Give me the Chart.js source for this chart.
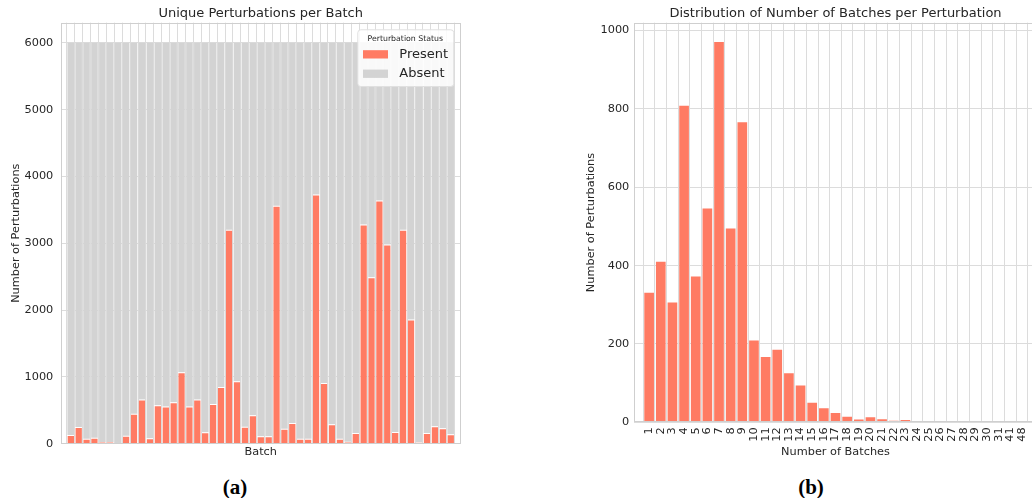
<!DOCTYPE html>
<html><head><meta charset="utf-8">
<script src="https://cdn.jsdelivr.net/npm/chart.js@4.4.1/dist/chart.umd.min.js"></script>
<style>
html,body{margin:0;padding:0;background:#fff;overflow:hidden;width:1032px;height:498px;position:relative;}
#wrapA{position:absolute;left:0;top:0;width:480px;height:470px;}
#wrapB{position:absolute;left:570px;top:0;width:480px;height:470px;}
.cap{position:absolute;font-family:"Liberation Serif","Times New Roman",serif;font-weight:bold;font-size:21px;line-height:1;color:#000;transform:translate(-50%,-50%);white-space:nowrap;}
</style></head><body>
<div id="wrapA"><canvas id="chartA" style="width:480px;height:470px"></canvas></div>
<div id="wrapB"><canvas id="chartB" style="width:480px;height:470px"></canvas></div>
<div class="cap" style="left:235px;top:487px">(a)</div>
<div class="cap" style="left:811px;top:487px">(b)</div>
<script>
// ---------- data: chart (a) ----------
const batchIds = [1,2,3,4,5,6,7,8,9,10,11,12,13,14,15,16,17,18,19,20,21,22,23,24,25,26,27,28,29,30,31,32,33,34,35,36,37,38,39,40,41,42,43,44,45,46,47,48,49];
const presentCounts = [130,250,75,90,25,25,8,120,450,660,80,575,555,620,1070,555,660,170,595,850,3200,935,255,425,110,110,3560,225,310,75,75,3730,910,290,75,30,160,3280,2490,3640,2980,175,3200,1860,20,160,260,230,140];
const absentCounts = [5870,5750,5925,5910,5975,5975,5992,5880,5550,5340,5920,5425,5445,5380,4930,5445,5340,5830,5405,5150,2800,5065,5745,5575,5890,5890,2440,5775,5690,5925,5925,2270,5090,5710,5925,5970,5840,2720,3510,2360,3020,5825,2800,4140,5980,5840,5740,5770,5860];
const yTicksA = [0,1000,2000,3000,4000,5000,6000];

// ---------- data: chart (b) ----------
const batchCountLabels = ['1','2','3','4','5','6','7','8','9','10','11','12','13','14','15','16','17','18','19','20','21','22','23','24','25','26','27','28','29','30','31','41','48'];
const perturbationCounts = [331,410,306,808,372,546,971,495,766,209,167,185,125,94,50,36,24,14,7,13,8,4,6,1,3,1,1,1,1,1,1,1,1];
const yTicksB = [0,200,400,600,800,1000];

const RED = '#FF7B63';
const GREY = '#D3D3D3';
const GRID = '#dcdcdc';
const TXT = '#262626';
const FS = 11.3;

Chart.defaults.font.family = "'DejaVu Sans', sans-serif";
Chart.defaults.color = TXT;
Chart.defaults.animation = false;

const framePlugin = {
  id: 'frame',
  afterDatasetsDraw(chart) {
    const {ctx, chartArea: a} = chart;
    ctx.save();
    ctx.strokeStyle = '#cfcfcf';
    ctx.lineWidth = 1;
    const l = Math.round(a.left) + 0.5, t = Math.round(a.top) + 0.5;
    const r = Math.round(a.right) - 0.5, b = Math.round(a.bottom) - 0.5;
    ctx.strokeRect(l, t, r - l, b - t);
    ctx.restore();
  }
};

const legendPlugin = {
  id: 'boxLegend',
  afterDraw(chart) {
    const {ctx, chartArea: a} = chart;
    const w = 96, h = 56.7;
    const x = a.right - 7.4 - w, y = a.top + 6.6;
    ctx.save();
    ctx.beginPath();
    ctx.roundRect(x + 0.5, y + 0.5, w, h, 3);
    ctx.fillStyle = 'rgba(255,255,255,0.85)';
    ctx.fill();
    ctx.strokeStyle = '#e0e0e0';
    ctx.lineWidth = 1;
    ctx.stroke();
    ctx.fillStyle = TXT;
    ctx.textBaseline = 'middle';
    ctx.textAlign = 'center';
    ctx.font = "7.8px 'DejaVu Sans'";
    ctx.fillText('Perturbation Status', x + w / 2, y + 9.2);
    ctx.textAlign = 'left';
    ctx.font = "13px 'DejaVu Sans'";
    chart.data.datasets.forEach((ds, i) => {
      const cy = y + 25 + i * 19.4;
      ctx.fillStyle = ds.backgroundColor;
      ctx.fillRect(x + 5.7, cy - 4.1, 25, 8.3);
      ctx.fillStyle = TXT;
      ctx.fillText(ds.label, x + 42, cy);
    });
    ctx.restore();
  }
};

// ---------- chart (a) ----------
new Chart(document.getElementById('chartA'), {
  type: 'bar',
  data: {
    datasets: [
      { label: 'Present', data: presentCounts.map((v, i) => ({x: i, y: v})), backgroundColor: RED,
        borderColor: 'rgba(255,255,255,0.8)', borderWidth: {top: 1, left: 0, right: 0, bottom: 0},
        categoryPercentage: 1, barPercentage: 0.83 },
      { label: 'Absent', data: absentCounts.map((v, i) => ({x: i, y: v})), backgroundColor: GREY,
        borderWidth: 0, categoryPercentage: 1, barPercentage: 0.83 }
    ]
  },
  options: {
    responsive: false,
    devicePixelRatio: 1,
    layout: { padding: { left: 0, right: 19.3, top: 0, bottom: 0 } },
    plugins: {
      legend: { display: false },
      tooltip: { enabled: false },
      title: { display: true, fullSize: false, text: 'Unique Perturbations per Batch', color: TXT,
        font: { size: 13, weight: 'normal' }, padding: { top: 6, bottom: 1.1 } }
    },
    scales: {
      x: {
        type: 'linear', stacked: true, min: -0.75, max: batchIds.length - 0.25,
        afterBuildTicks: (s) => { s.ticks = batchIds.map((b, i) => ({value: i})); },
        ticks: { display: false },
        grid: { color: GRID, drawTicks: false },
        border: { display: false },
        title: { display: true, text: 'Batch', color: TXT, font: { size: FS }, padding: { top: 0, bottom: 11.4 } },
        afterFit: (s) => { s.height = 26.3; }
      },
      y: {
        stacked: true, min: 0, max: 6300,
        afterBuildTicks: (s) => { s.ticks = yTicksA.map(v => ({value: v})); },
        ticks: { padding: 7.4, font: { size: FS }, color: TXT, callback: (v) => String(v) },
        grid: { color: GRID, drawTicks: false },
        border: { display: false },
        title: { display: true, text: 'Number of Perturbations', color: TXT, font: { size: FS }, padding: { top: 8.9, bottom: 0 } },
        afterFit: (s) => { s.width = 60.7; }
      }
    }
  },
  plugins: [framePlugin, legendPlugin]
});

// ---------- chart (b) ----------
new Chart(document.getElementById('chartB'), {
  type: 'bar',
  data: {
    datasets: [
      { label: 'Number of Perturbations', data: perturbationCounts.map((v, i) => ({x: i, y: v})),
        backgroundColor: RED, borderWidth: 0, categoryPercentage: 1, barPercentage: 0.83 }
    ]
  },
  options: {
    responsive: false,
    devicePixelRatio: 1,
    layout: { padding: { left: 0, right: 13.3, top: 0, bottom: 0 } },
    plugins: {
      legend: { display: false },
      tooltip: { enabled: false },
      title: { display: true, fullSize: false, text: 'Distribution of Number of Batches per Perturbation', color: TXT,
        font: { size: 13, weight: 'normal' }, padding: { top: 6, bottom: 1.1 } }
    },
    scales: {
      x: {
        type: 'linear', min: -0.75, max: batchCountLabels.length - 0.25,
        afterBuildTicks: (s) => { s.ticks = batchCountLabels.map((b, i) => ({value: i})); },
        ticks: { autoSkip: false, maxRotation: 90, minRotation: 90, padding: 5, font: { size: FS }, color: TXT,
          callback: (v) => batchCountLabels[v] },
        grid: { color: GRID, drawTicks: false },
        border: { display: false },
        title: { display: true, text: 'Number of Batches', color: TXT, font: { size: FS }, padding: { top: 0, bottom: 11.4 } },
        afterFit: (s) => { s.height = 47.7; }
      },
      y: {
        min: 0, max: 1020,
        afterBuildTicks: (s) => { s.ticks = yTicksB.map(v => ({value: v})); },
        ticks: { padding: 5, font: { size: FS }, color: TXT, callback: (v) => String(v) },
        grid: { color: GRID, drawTicks: false },
        border: { display: false },
        title: { display: true, text: 'Number of Perturbations', color: TXT, font: { size: FS }, padding: { top: 14.4, bottom: 0 } },
        afterFit: (s) => { s.width = 64.3; }
      }
    }
  },
  plugins: [framePlugin]
});
</script>
</body></html>
